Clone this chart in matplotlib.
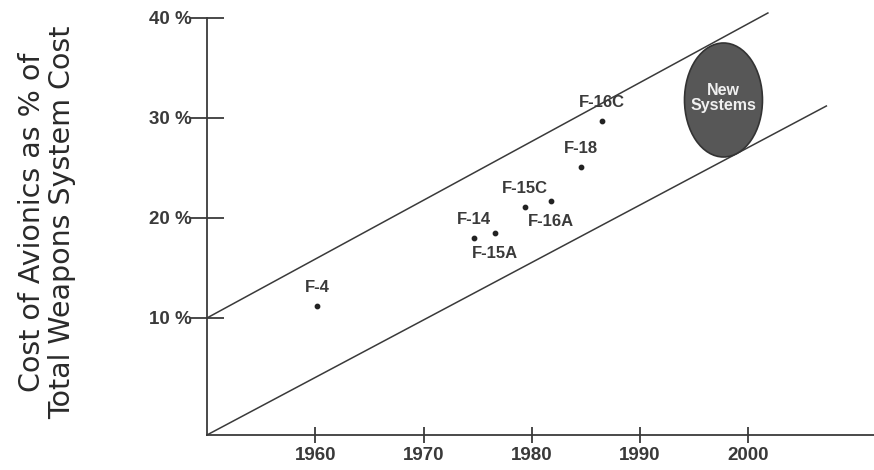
import matplotlib
matplotlib.use('Agg')
import matplotlib.pyplot as plt
from matplotlib.patches import Ellipse

plt.rcParams['font.family'] = ['Liberation Sans', 'DejaVu Sans']

# aircraft: year introduced, avionics cost share (%)
aircraft = ['F-4', 'F-14', 'F-15A', 'F-15C', 'F-16A', 'F-18', 'F-16C']
years = [1960.2, 1974.7, 1976.6, 1979.4, 1981.8, 1984.5, 1986.5]
share = [11.2, 18.0, 18.5, 21.1, 21.7, 25.1, 29.7]
label_above = [True, True, False, True, False, True, True]

# trend band (upper / lower boundary)
upper_x = [1950, 2001.8]
upper_y = [10, 40.5]
lower_x = [1950, 2007.2]
lower_y = [-1.7, 31.2]

# "New Systems" region
new_sys_center = (1997.7, 31.8)
new_sys_size = (7.2, 11.4)

xticks = [1960, 1970, 1980, 1990, 2000]
yticks = [10, 20, 30, 40]
ytick_labels = ['10 %', '20 %', '30 %', '40 %']

ink = '#3a3a3a'

fig = plt.figure(figsize=(8.74, 4.70), dpi=100)
ax = fig.add_axes([0.2368, 0.0745, 0.7632, 0.9085])

ax.plot(upper_x, upper_y, color=ink, lw=1.1, clip_on=False)
ax.plot(lower_x, lower_y, color=ink, lw=1.1, clip_on=False)

ax.scatter(years, share, s=10, color='#222222', zorder=3)
for name, x, y, above in zip(aircraft, years, share, label_above):
    if above:
        ax.text(x, y + 1.1, name, ha='center', va='bottom', fontsize=12,
                fontweight='bold', color=ink)
    else:
        ax.text(x, y - 1.3, name, ha='center', va='top', fontsize=12,
                fontweight='bold', color=ink)

ell = Ellipse(new_sys_center, new_sys_size[0], new_sys_size[1],
              facecolor='#575757', edgecolor='#333333', lw=1.2, zorder=4)
ax.add_patch(ell)
ax.text(new_sys_center[0], new_sys_center[1] + 0.2, 'New\nSystems', ha='center',
        va='center', fontsize=11.5, fontweight='bold', color='#f0f0f0',
        linespacing=1.0, zorder=5)

ax.set_xlim(1950, 2011.6)
ax.set_ylim(-1.7, 41)
for side in ['top', 'right']:
    ax.spines[side].set_visible(False)
for side in ['left', 'bottom']:
    ax.spines[side].set_color(ink)
    ax.spines[side].set_linewidth(1.3)
ax.spines['left'].set_bounds(-1.7, 40)

ax.set_xticks(xticks)
ax.set_xticklabels([str(t) for t in xticks])
ax.set_yticks(yticks)
ax.set_yticklabels(ytick_labels)
ax.tick_params(axis='y', direction='inout', length=25, width=1.3, color=ink,
               pad=-1.5, labelsize=13.5, labelcolor=ink)
ax.tick_params(axis='x', direction='inout', length=12, width=1.3, color=ink,
               pad=3, labelsize=13.5, labelcolor=ink)
for lab in ax.get_xticklabels() + ax.get_yticklabels():
    lab.set_fontweight('bold')

fig.text(0.054, 0.528, 'Cost of Avionics as % of\nTotal Weapons System Cost',
         rotation=90, ha='center', va='center', fontsize=20.5, color='#2a2a2a',
         family=['DejaVu Sans'], linespacing=1.12)

fig.savefig('out.png', dpi=100)
